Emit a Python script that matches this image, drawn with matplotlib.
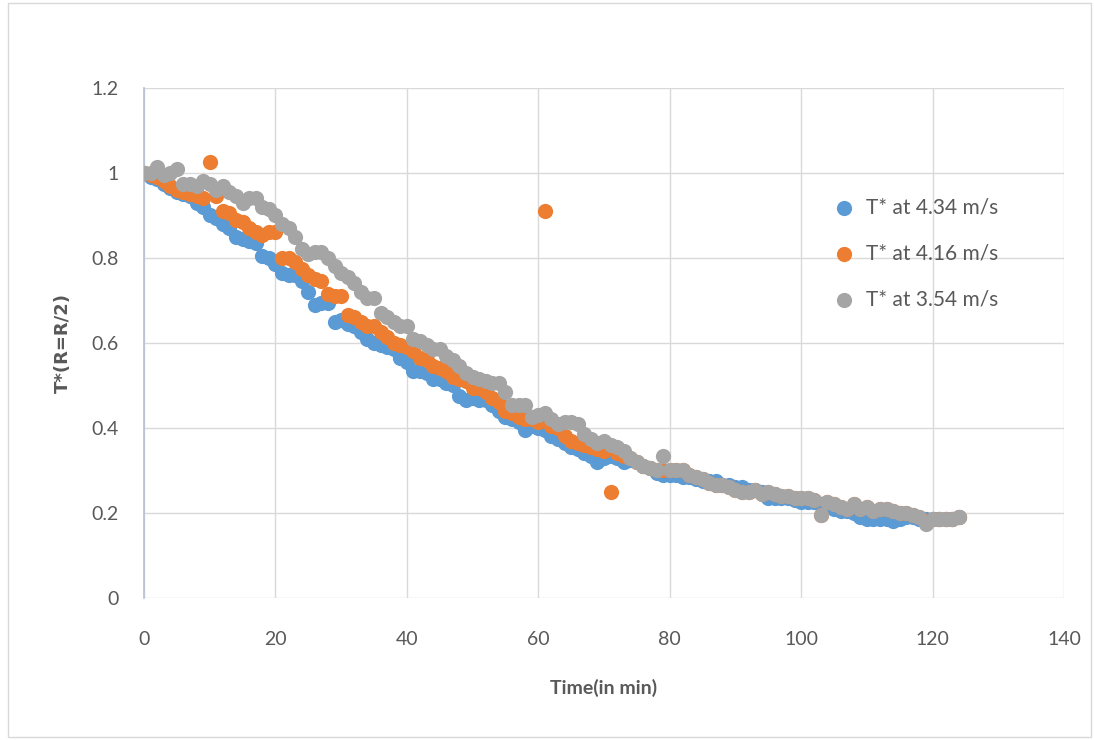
import matplotlib
matplotlib.use("Agg")
import matplotlib.pyplot as plt
from matplotlib.patches import Rectangle

time_min = list(range(0, 125))

t_434 = [1.0, 0.99, 0.985, 0.975, 0.965, 0.955, 0.95, 0.945, 0.93, 0.92,
         0.90, 0.895, 0.88, 0.87, 0.85, 0.845, 0.84, 0.835, 0.805, 0.80,
         0.785, 0.765, 0.76, 0.76, 0.745, 0.72, 0.69, 0.695, 0.695, 0.65,
         0.655, 0.645, 0.64, 0.625, 0.61, 0.60, 0.595, 0.59, 0.585, 0.565,
         0.555, 0.535, 0.535, 0.53, 0.515, 0.515, 0.505, 0.50, 0.475, 0.465,
         0.47, 0.465, 0.465, 0.455, 0.44, 0.425, 0.42, 0.415, 0.395, 0.405,
         0.40, 0.395, 0.38, 0.375, 0.365, 0.355, 0.35, 0.34, 0.335, 0.32,
         0.33, 0.335, 0.33, 0.32, 0.325, 0.32, 0.31, 0.305, 0.295, 0.29,
         0.29, 0.29, 0.285, 0.285, 0.28, 0.275, 0.275, 0.275, 0.265, 0.265,
         0.26, 0.26, 0.255, 0.255, 0.25, 0.235, 0.235, 0.235, 0.235, 0.23,
         0.225, 0.225, 0.225, 0.22, 0.215, 0.21, 0.205, 0.205, 0.20, 0.19,
         0.185, 0.185, 0.185, 0.185, 0.18, 0.185, 0.19, 0.19, 0.185, 0.185,
         0.185, 0.185, 0.185, 0.185, 0.19]

t_416 = [1.0, 0.995, 0.99, 0.98, 0.97, 0.96, 0.955, 0.95, 0.945, 0.94,
         1.025, 0.945, 0.91, 0.905, 0.89, 0.885, 0.87, 0.86, 0.855, 0.86,
         0.86, 0.80, 0.80, 0.79, 0.775, 0.76, 0.75, 0.745, 0.715, 0.71,
         0.71, 0.665, 0.66, 0.65, 0.64, 0.64, 0.625, 0.615, 0.60, 0.595,
         0.59, 0.58, 0.565, 0.56, 0.545, 0.54, 0.535, 0.52, 0.515, 0.51,
         0.495, 0.495, 0.485, 0.47, 0.46, 0.44, 0.435, 0.425, 0.42, 0.42,
         0.415, 0.91, 0.405, 0.40, 0.38, 0.37, 0.365, 0.36, 0.355, 0.35,
         0.345, 0.25, 0.34, 0.335, 0.33, 0.32, 0.31, 0.305, 0.30, 0.30,
         0.30, 0.30, 0.30, 0.29, 0.285, 0.28, 0.27, 0.265, 0.265, 0.26,
         0.255, 0.25, 0.25, 0.255, 0.245, 0.25, 0.245, 0.24, 0.24, 0.235,
         0.235, 0.235, 0.23, 0.195, 0.225, 0.22, 0.215, 0.21, 0.22, 0.21,
         0.215, 0.205, 0.21, 0.21, 0.205, 0.20, 0.20, 0.195, 0.19, 0.18,
         0.185, 0.185, 0.185, 0.185, 0.19]

t_354 = [1.0, 1.0, 1.015, 0.995, 1.0, 1.01, 0.975, 0.975, 0.97, 0.98,
         0.975, 0.96, 0.97, 0.955, 0.945, 0.93, 0.94, 0.94, 0.92, 0.915,
         0.90, 0.88, 0.87, 0.85, 0.82, 0.81, 0.815, 0.815, 0.80, 0.78,
         0.765, 0.755, 0.74, 0.72, 0.705, 0.705, 0.67, 0.66, 0.65, 0.64,
         0.64, 0.61, 0.605, 0.595, 0.585, 0.585, 0.57, 0.56, 0.545, 0.53,
         0.52, 0.515, 0.51, 0.505, 0.505, 0.485, 0.455, 0.455, 0.455, 0.425,
         0.43, 0.435, 0.42, 0.41, 0.415, 0.415, 0.41, 0.385, 0.375, 0.365,
         0.37, 0.36, 0.355, 0.345, 0.33, 0.32, 0.31, 0.305, 0.30, 0.335,
         0.30, 0.30, 0.30, 0.29, 0.285, 0.28, 0.27, 0.265, 0.265, 0.26,
         0.255, 0.25, 0.25, 0.255, 0.245, 0.25, 0.245, 0.24, 0.24, 0.235,
         0.235, 0.235, 0.23, 0.195, 0.225, 0.22, 0.215, 0.21, 0.22, 0.21,
         0.215, 0.205, 0.21, 0.21, 0.205, 0.20, 0.20, 0.195, 0.19, 0.175,
         0.185, 0.185, 0.185, 0.185, 0.19]

labels = ["T* at 4.34 m/s", "T* at 4.16 m/s", "T* at 3.54 m/s"]
colors = ["#5B9BD5", "#ED7D31", "#A5A5A5"]
x_ticks = [0, 20, 40, 60, 80, 100, 120, 140]
y_ticks = [0, 0.2, 0.4, 0.6, 0.8, 1.0, 1.2]
y_ticklabels = ["0", "0.2", "0.4", "0.6", "0.8", "1", "1.2"]

plt.rcParams['font.family'] = ['Lato', 'DejaVu Sans']

fig = plt.figure(figsize=(10.94, 7.40), dpi=100)
fig.patches.append(Rectangle((0.007, 0.004), 0.99, 0.992, transform=fig.transFigure,
                             fill=False, edgecolor="#d9d9d9", linewidth=1.0))
ax = fig.add_axes([0.1316, 0.1919, 0.8410, 0.6892])

for ys, c, lab in zip([t_434, t_416, t_354], colors, labels):
    ax.scatter(time_min, ys, s=120, color=c, label=lab, linewidths=0, zorder=3)

ax.set_xlim(0, 140)
ax.set_ylim(0, 1.2)
ax.set_xticks(x_ticks)
ax.set_yticks(y_ticks)
ax.set_yticklabels(y_ticklabels)
ax.grid(True, color="#d9d9d9", linewidth=1.0, zorder=0)
ax.set_axisbelow(True)
for s in ["top", "right", "bottom"]:
    ax.spines[s].set_visible(False)
ax.spines["left"].set_color("#b4c0d4")
ax.spines["left"].set_linewidth(1.2)
ax.tick_params(axis="both", length=0, labelsize=14, labelcolor="#595959")
ax.tick_params(axis="x", pad=24)
ax.tick_params(axis="y", pad=18)

ax.set_xlabel("Time(in min)", fontsize=14, fontweight="bold", color="#595959", labelpad=22)
ax.set_ylabel("T*(R=R/2)", fontsize=13, fontweight="bold", color="#595959", labelpad=14,
              family=['DejaVu Sans'])

leg = ax.legend(loc="upper left", bbox_to_anchor=(0.718, 0.823), frameon=False,
                fontsize=15, labelcolor="#595959", handletextpad=0.05,
                labelspacing=1.25, scatterpoints=1, markerscale=1.0)

fig.savefig("out.png", dpi=100)
